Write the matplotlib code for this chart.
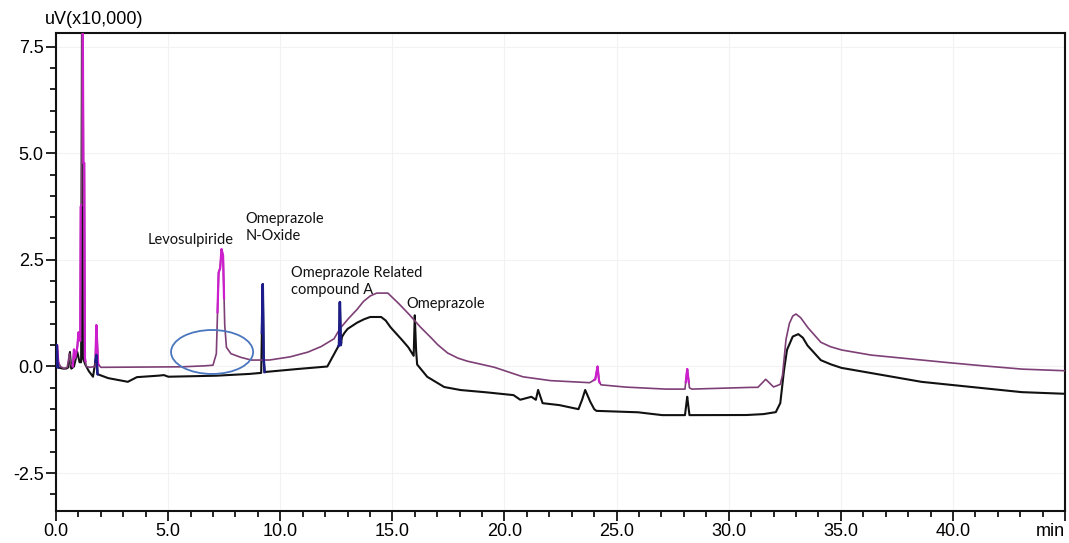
import numpy as np
import matplotlib
matplotlib.use("Agg")
import matplotlib.pyplot as plt
from matplotlib.patches import Ellipse
from matplotlib.ticker import MultipleLocator, FixedLocator

# ---------------- data ----------------
# upper trace (purple), time in min, signal in uV x10,000
purple_t = [0.00, 0.05, 0.10, 0.20, 0.35, 0.50, 0.60, 0.65, 0.75, 0.80, 0.85, 0.95, 1.00, 1.05,
            1.08, 1.10, 1.14, 1.16, 1.19, 1.22, 1.26, 1.29, 1.35, 1.50, 1.75, 1.80, 1.84, 1.88,
            2.00, 5.50, 6.50, 7.00, 7.15, 7.25, 7.32, 7.38, 7.45, 7.52, 7.60, 7.80, 8.20, 8.70,
            9.50, 10.40, 11.20, 11.80, 12.40, 12.65, 13.00, 13.40, 13.70, 14.00, 14.30, 14.80,
            15.20, 15.70, 16.20, 16.70, 17.00, 17.45, 17.90, 18.30, 19.50, 20.80, 22.00, 23.80,
            24.05, 24.15, 24.22, 24.30, 25.30, 27.10, 28.05, 28.15, 28.25, 28.35, 30.80, 31.30,
            31.65, 32.00, 32.30, 32.40, 32.55, 32.70, 32.85, 33.00, 33.20, 33.50, 34.10, 34.50,
            35.00, 36.30, 38.60, 40.80, 43.00, 45.00]
purple_v = [0.00, 0.50, 0.10, 0.00, -0.05, -0.02, 0.30, 0.05, 0.00, 0.40, 0.20, 0.45, 0.80, 0.70,
            0.60, 3.74, 3.80, 8.50, 8.50, 4.77, 4.77, 0.20, 0.00, -0.02, 0.00, 0.97, 0.50, 0.05,
            -0.02, -0.01, 0.01, 0.03, 0.30, 2.20, 2.30, 2.75, 2.60, 1.00, 0.45, 0.30, 0.22, 0.15,
            0.15, 0.22, 0.33, 0.46, 0.65, 0.88, 1.10, 1.32, 1.52, 1.65, 1.72, 1.72,
            1.52, 1.25, 0.95, 0.69, 0.52, 0.32, 0.20, 0.13, -0.01, -0.24, -0.33, -0.38,
            -0.30, 0.00, -0.35, -0.43, -0.48, -0.53, -0.53, -0.06, -0.50, -0.53, -0.49, -0.49,
            -0.30, -0.48, -0.42, -0.20, 0.62, 1.00, 1.18, 1.23, 1.15, 0.93, 0.57, 0.47,
            0.39, 0.27, 0.15, 0.04, -0.06, -0.10]

# lower trace (black)
black_t = [0.00, 0.03, 0.08, 0.30, 0.45, 0.55, 0.62, 0.68, 0.80, 0.95, 1.05, 1.12, 1.16, 1.20,
           1.30, 1.45, 1.65, 1.80, 1.85, 2.30, 3.20, 3.60, 4.50, 4.80, 5.00, 7.00, 8.50, 9.15,
           9.22, 9.26, 9.30, 10.30, 12.10, 12.50, 12.62, 12.66, 12.70, 12.75, 12.85, 13.00,
           13.40, 13.70, 14.00, 14.50, 14.70, 14.90, 15.30, 15.70, 15.95, 16.00, 16.05, 16.10,
           16.55, 17.30, 18.00, 18.90, 20.40, 20.70, 21.20, 21.40, 21.50, 21.70, 22.40, 23.30,
           23.45, 23.60, 23.80, 24.00, 24.10, 25.90, 27.00, 28.05, 28.15, 28.25, 30.70, 31.50,
           32.10, 32.30, 32.45, 32.60, 32.85, 33.10, 33.30, 33.50, 34.10, 34.50, 35.00, 36.30,
           38.60, 40.80, 43.00, 45.00]
black_v = [0.00, 0.50, -0.02, -0.05, -0.05, -0.02, 0.34, -0.05, 0.00, 0.34, 0.10, 0.10, 8.50, 0.20,
           0.05, -0.10, -0.24, 0.27, -0.18, -0.27, -0.36, -0.25, -0.22, -0.20, -0.24, -0.22, -0.18, -0.15,
           1.93, 0.20, -0.13, -0.08, 0.00, 0.39, 0.50, 1.51, 0.50, 0.69, 0.78, 0.88,
           1.02, 1.10, 1.16, 1.16, 1.08, 0.93, 0.70, 0.46, 0.25, 1.20, 0.45, 0.05,
           -0.24, -0.48, -0.55, -0.59, -0.67, -0.78, -0.71, -0.78, -0.55, -0.86, -0.90, -1.00,
           -0.80, -0.55, -0.80, -1.00, -1.04, -1.07, -1.14, -1.14, -0.71, -1.14, -1.14, -1.12,
           -1.07, -0.86, -0.15, 0.39, 0.70, 0.76, 0.68, 0.50, 0.15, 0.06, -0.03, -0.15,
           -0.36, -0.48, -0.60, -0.64]

x_ticks = [0, 5, 10, 15, 20, 25, 30, 35, 40, 45]
x_tick_labels = ["0.0", "5.0", "10.0", "15.0", "20.0", "25.0", "30.0", "35.0", "40.0", "min"]
y_ticks = [-2.5, 0.0, 2.5, 5.0, 7.5]
y_tick_labels = ["-2.5", "0.0", "2.5", "5.0", "7.5"]
y_unit = "uV(x10,000)"

labels = ["Levosulpiride", "Omeprazole\nN-Oxide", "Omeprazole Related\ncompound A", "Omeprazole"]
label_pos = [(4.10, 2.96), (8.44, 3.25), (10.49, 2.00), (15.63, 1.46)]

# ---------------- styling ----------------
PURPLE = "#7d3f76"
MAGENTA = "#cc1ecc"
NAVY = "#1c1c8a"
BLACK = "#111111"
magenta_ranges = [(0.0, 0.12), (0.75, 1.13), (1.19, 1.32), (1.76, 1.9), (7.2, 7.5), (24.0, 24.25), (28.08, 28.22)]
navy_ranges = [(0.0, 0.1), (1.75, 1.86), (9.18, 9.3), (12.6, 12.72)]

plt.rcParams["font.family"] = ["Liberation Sans", "DejaVu Sans"]

fig = plt.figure(figsize=(10.69, 5.43), dpi=100)
ax = fig.add_axes([0.0524, 0.0595, 0.9439, 0.8792])

def dense(t, v, n=6000):
    tt = np.linspace(0, 45, n)
    tt = np.union1d(tt, np.asarray(t))
    return tt, np.interp(tt, t, v)

pt, pv = dense(purple_t, purple_v)
bt, bv = dense(black_t, black_v)

ax.plot(bt, bv, color=BLACK, lw=1.5, zorder=3)
ax.plot(pt, pv, color=PURPLE, lw=1.2, zorder=4)
for a, b in magenta_ranges:
    m = (pt >= a) & (pt <= b)
    ax.plot(pt[m], pv[m], color=MAGENTA, lw=1.6, zorder=5)
for a, b in navy_ranges:
    m = (bt >= a) & (bt <= b)
    ax.plot(bt[m], bv[m], color=NAVY, lw=1.8, zorder=5)

ax.add_patch(Ellipse((6.96, 0.34), 3.66, 1.03, fill=False, edgecolor="#4a76bd", lw=1.3, zorder=6))

for txt, (x, y) in zip(labels, label_pos):
    ax.text(x, y, txt, fontsize=10.5, family=["Lato", "DejaVu Sans"], ha="left", va="center",
            linespacing=1.25, color="#111111", zorder=7)

ax.set_xlim(0, 45)
ax.set_ylim(-3.38, 7.81)
ax.xaxis.set_major_locator(FixedLocator(x_ticks))
ax.set_xticklabels(x_tick_labels)
ax.xaxis.set_minor_locator(MultipleLocator(1))
ax.yaxis.set_major_locator(FixedLocator(y_ticks))
ax.set_yticklabels(y_tick_labels)
ax.yaxis.set_minor_locator(MultipleLocator(0.5))
ax.get_xticklabels()[-1].set_ha("right")

ax.tick_params(axis="both", which="major", direction="out", length=7, width=1.2, labelsize=13, pad=2)
ax.tick_params(axis="both", which="minor", direction="out", length=4, width=1.2)
for s in ax.spines.values():
    s.set_linewidth(1.5)
    s.set_color("#111111")

ax.grid(True, which="major", color="#f2f2f2", lw=0.8, zorder=0)

fig.text(45 / 1069, 1 - 20 / 543, y_unit, fontsize=13, ha="left", va="center")

fig.savefig("out.png", dpi=100)
